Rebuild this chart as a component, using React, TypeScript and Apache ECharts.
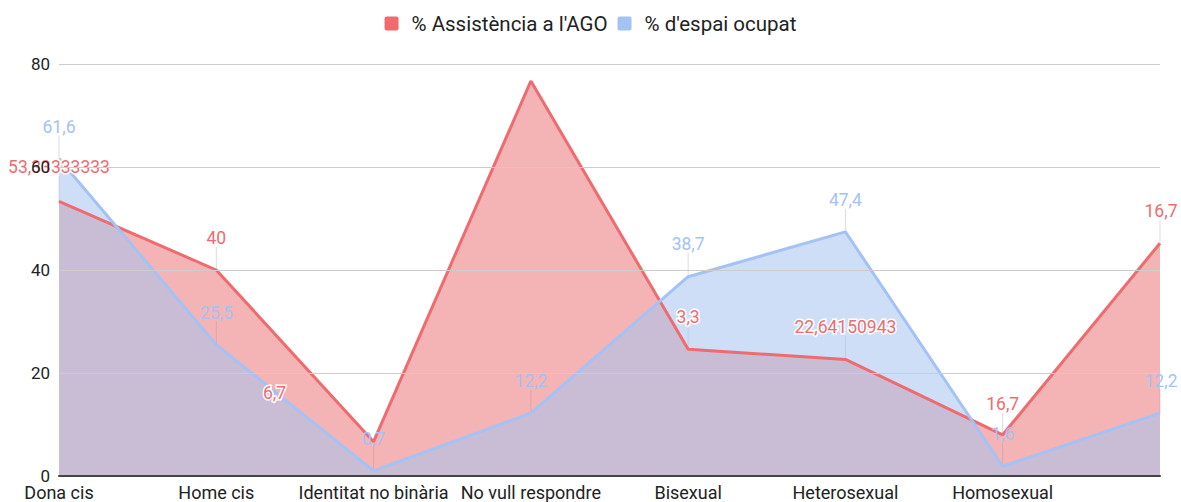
import React, { useEffect, useRef } from "react";
import * as echarts from "echarts";

const categories = [
  "Dona cis",
  "Home cis",
  "Identitat no binària",
  "No vull respondre",
  "Bisexual",
  "Heterosexual",
  "Homosexual",
  "",
];
const seriesNames = ["% Assistència a l'AGO", "% d'espai ocupat"];
const assistencia = [53.33, 40, 6.67, 76.7, 24.6, 22.64, 8.0, 45.2];
const espai = [61.6, 25.5, 1.0, 12.2, 38.7, 47.4, 1.9, 12.2];
const assistenciaLabels = ["53,33333333", "40", "6,7", null, "3,3", "22,64150943", "16,7", "16,7"];
const espaiLabels = ["61,6", "25,5", "0,7", "12,2", "38,7", "47,4", "1,6", "12,2"];
const yMin = 0;
const yMax = 80;
const yInterval = 20;

// label displacement (layout only): [dx, dy, showLeader]
const redLabelOffsets: Array<[number, number, boolean]> = [
  [0, -34, true],
  [0, -32, true],
  [-99, -49, false],
  [0, -32, true],
  [0, -32, true],
  [0, -32, true],
  [0, -31, true],
  [1, -32, true],
];
const blueLabelOffsets: Array<[number, number, boolean]> = [
  [0, -32, true],
  [0, -32, true],
  [0, -32, true],
  [0, -32, true],
  [0, -33, true],
  [0, -32, true],
  [0, -32, true],
  [1, -32, true],
];

const RED = "#ee6b70";
const RED_FILL = "rgba(233,103,107,0.5)";
const BLUE = "#a4c2f4";
const BLUE_FILL = "rgba(165,194,238,0.55)";
const FONT = "Roboto";

function leaderSeries(values: number[], labels: (string | null)[], offsets: Array<[number, number, boolean]>) {
  return {
    type: "custom",
    silent: true,
    z: 1,
    data: values.map((v, i) => [i, v]),
    renderItem: (params: any, api: any) => {
      const i = params.dataIndex;
      const off = offsets[i];
      if (labels[i] == null || !off[2]) return { type: "group", children: [] };
      const pt = api.coord([api.value(0), api.value(1)]);
      return {
        type: "line",
        shape: { x1: pt[0], y1: pt[1], x2: pt[0], y2: pt[1] + off[1] + 9 },
        style: { stroke: "#dcdcdc", lineWidth: 1 },
      };
    },
  };
}

function textSeries(
  values: number[],
  labels: (string | null)[],
  offsets: Array<[number, number, boolean]>,
  color: string,
  halo: boolean
) {
  return {
    type: "custom",
    silent: true,
    z: 8,
    data: values.map((v, i) => [i, v]),
    renderItem: (params: any, api: any) => {
      const i = params.dataIndex;
      const txt = labels[i];
      if (txt == null) return { type: "group", children: [] };
      const off = offsets[i];
      const pt = api.coord([api.value(0), api.value(1)]);
      const style: any = {
        text: txt,
        x: pt[0] + off[0],
        y: pt[1] + off[1],
        fill: color,
        fontFamily: FONT,
        fontSize: 17.5,
        align: "center",
        verticalAlign: "middle",
      };
      if (halo) {
        style.stroke = "#ffffff";
        style.lineWidth = 3;
      }
      return { type: "text", style };
    },
  };
}

export default function App() {
  const ref = useRef<HTMLDivElement>(null);
  useEffect(() => {
    document.body.style.margin = "0";
    document.body.style.overflow = "hidden";
    if (!ref.current) return;
    const chart = echarts.init(ref.current, null, { renderer: "svg" });
    chart.setOption({
      animation: false,
      backgroundColor: "#ffffff",
      textStyle: { fontFamily: FONT },
      legend: {
        data: seriesNames,
        top: 8,
        left: "center",
        itemWidth: 14,
        itemHeight: 14,
        itemGap: 10,
        icon: "path://M2,0 H12 A2,2 0 0 1 14,2 V12 A2,2 0 0 1 12,14 H2 A2,2 0 0 1 0,12 V2 A2,2 0 0 1 2,0 Z",
        textStyle: { fontSize: 20.5, color: "#222222", fontFamily: FONT, padding: [0, 0, 0, 8] },
      },
      grid: { left: 59, right: 21, top: 64, bottom: 26, containLabel: false },
      xAxis: {
        type: "category",
        data: categories,
        boundaryGap: false,
        axisTick: { show: false },
        axisLine: { show: true, lineStyle: { color: "#444444", width: 2 } },
        axisLabel: { color: "#222222", fontSize: 18, fontFamily: FONT, margin: 7, interval: 0 },
        splitLine: { show: false },
        z: 10,
      },
      yAxis: {
        type: "value",
        min: yMin,
        max: yMax,
        interval: yInterval,
        axisLine: { show: false },
        axisTick: { show: false },
        axisLabel: { color: "#222222", fontSize: 17, fontFamily: FONT, margin: 9 },
        splitLine: { lineStyle: { color: "#cccccc", width: 1 } },
        z: 10,
      },
      series: [
        leaderSeries(assistencia, assistenciaLabels, redLabelOffsets),
        leaderSeries(espai, espaiLabels, blueLabelOffsets),
        {
          name: seriesNames[0],
          type: "line",
          data: assistencia,
          symbol: "none",
          z: 2,
          itemStyle: { color: RED },
          lineStyle: { width: 0, opacity: 0 },
          areaStyle: { color: RED_FILL, opacity: 1 },
        },
        {
          name: seriesNames[1],
          type: "line",
          data: espai,
          symbol: "none",
          z: 3,
          itemStyle: { color: BLUE },
          lineStyle: { width: 0, opacity: 0 },
          areaStyle: { color: BLUE_FILL, opacity: 1 },
        },
        {
          name: seriesNames[0],
          type: "line",
          data: assistencia,
          symbol: "none",
          z: 4,
          itemStyle: { color: RED },
          lineStyle: { color: RED, width: 3 },
        },
        {
          name: seriesNames[1],
          type: "line",
          data: espai,
          symbol: "none",
          z: 5,
          itemStyle: { color: BLUE },
          lineStyle: { color: BLUE, width: 3 },
        },
        textSeries(assistencia, assistenciaLabels, redLabelOffsets, RED, true),
        textSeries(espai, espaiLabels, blueLabelOffsets, BLUE, false),
      ],
    });
    return () => chart.dispose();
  }, []);
  return <div ref={ref} style={{ width: 1181, height: 502 }} />;
}
